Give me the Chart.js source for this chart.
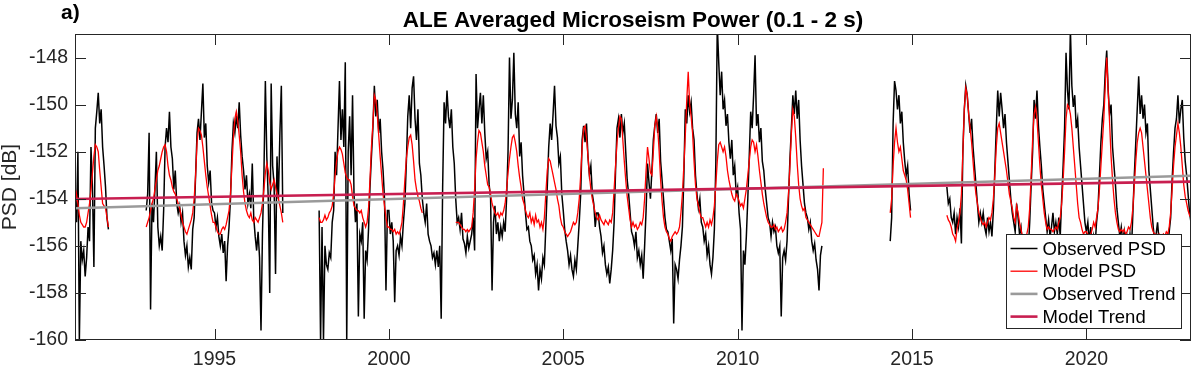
<!DOCTYPE html>
<html>
<head>
<meta charset="utf-8">
<script src="https://cdn.jsdelivr.net/npm/chart.js@4.4.1/dist/chart.umd.min.js"></script>
<style>
  html, body { margin: 0; padding: 0; background: #fff; }
  #wrap { width: 1200px; height: 377px; position: relative; }
</style>
</head>
<body>
<div id="wrap"><canvas id="psdChart"></canvas></div>
<script>
// half-month samples, values in dB
const STEP = 1 / 24;

const xTicks = [1995, 2000, 2005, 2010, 2015, 2020];
const yTicks = [-160, -158, -156, -154, -152, -150, -148];
const seriesNames = ['Observed PSD', 'Model PSD', 'Observed Trend', 'Model Trend'];

const trendYears = [1991, 2023];
const observedTrend = [-154.40, -153.02];
const modelTrend = [-154.01, -153.27];

// first sample time of each continuous stretch
const observedStarts = [1991, 1993 + 1 / 24, 1998, 2014 + 9 / 24, 2016];
const modelStarts = [1991, 1993 + 1 / 24, 1998, 2001 + 22 / 24, 2014 + 9 / 24, 2016];

const obs1991 = [-154.2,-155.0,-152.0,-160.0,-155.8,-156.6,-156.2,-157.3,-156.5,-155.2,-155.8,-151.8,-153.5,-156.9,-151.0,-150.3,-149.5,-150.8,-150.2,-151.8,-152.6,-153.5,-154.8,-155.3];

const obs1993to96 = [
  -154.5,-153.8,-151.2,-158.7,-154.2,-155.0,-153.6,-152.0,-155.2,-156.0,-155.6,-156.2,-154.5,-151.8,-151.0,-151.6,-150.3,-151.8,-152.3,-153.6,-152.8,-154.2,-154.6,
  -154.3,-155.0,-154.6,-155.8,-156.4,-156.0,-156.9,-156.5,-157.0,-155.3,-154.8,-153.0,-151.2,-150.6,-151.5,-150.3,-149.1,-151.4,-150.8,-152.6,-153.3,-152.8,-154.2,-154.5,
  -154.6,-155.2,-154.8,-155.6,-156.0,-155.5,-156.3,-155.8,-157.5,-156.0,-155.2,-154.0,-152.0,-150.8,-151.2,-150.5,-151.0,-149.9,-151.3,-152.2,-152.8,-153.6,-153.0,-154.2,
  -153.8,-154.4,-152.5,-154.8,-155.6,-156.2,-155.4,-156.5,-159.6,-155.5,-153.0,-149.0,-152.2,-154.0,-158.0,-149.1,-152.6,-153.4,-157.2,-152.2,-154.0,-151.2,-149.2,-154.6
];

const obs1998to2012 = [
  -154.5,-160.0,-155.2,-160.0,-156.0,-156.8,-157.0,-156.3,-156.5,-155.0,-154.5,-152.0,-153.0,-151.0,-149.0,-151.5,-150.2,-151.8,-148.2,-160.0,-152.0,-150.5,-153.0,-149.6,
  -153.8,-155.0,-154.2,-159.0,-155.5,-155.8,-155.0,-159.1,-156.2,-156.6,-155.3,-153.5,-152.2,-151.0,-149.2,-150.5,-149.8,-151.2,-150.6,-152.0,-152.8,-154.0,-157.9,-154.5,
  -154.5,-155.5,-155.0,-155.8,-158.4,-156.2,-156.0,-156.4,-155.6,-156.0,-155.0,-154.2,-152.5,-150.5,-149.6,-151.0,-149.3,-148.8,-150.6,-151.5,-150.2,-152.5,-153.0,-154.0,
  -154.6,-155.0,-154.2,-155.5,-155.8,-156.0,-156.5,-156.3,-156.8,-156.2,-156.9,-156.0,-159.1,-153.5,-149.9,-150.8,-149.4,-150.5,-151.0,-150.2,-151.8,-152.5,-154.0,-155.0,
  -154.8,-155.3,-154.6,-155.7,-155.9,-156.3,-155.6,-156.1,-155.8,-155.5,-154.8,-156.2,-148.7,-151.0,-150.2,-149.5,-150.8,-149.6,-151.2,-152.3,-152.0,-153.4,-154.0,-157.9,
  -155.0,-154.3,-155.5,-155.0,-155.8,-155.2,-155.6,-155.0,-155.4,-154.0,-152.0,-148.0,-150.6,-149.8,-147.8,-150.4,-151.0,-149.9,-152.2,-151.6,-153.0,-153.8,-154.6,-155.3,
  -155.2,-155.8,-156.0,-156.6,-156.4,-157.2,-156.8,-157.9,-157.0,-157.4,-156.5,-156.8,-155.2,-153.5,-151.8,-150.8,-151.5,-150.4,-149.2,-150.9,-151.4,-152.5,-152.2,-153.8,
  -154.5,-155.3,-155.8,-156.2,-156.8,-156.4,-157.0,-157.3,-156.6,-157.0,-156.0,-155.0,-153.8,-151.5,-150.9,-151.6,-150.8,-152.2,-153.0,-152.6,-153.8,-154.2,-155.2,-154.6,
  -154.6,-155.2,-155.6,-156.3,-156.0,-156.8,-157.2,-156.9,-157.6,-157.0,-156.2,-155.0,-152.8,-151.0,-150.6,-151.4,-150.4,-151.2,-150.8,-152.0,-153.2,-153.8,-154.6,-155.4,
  -155.6,-156.0,-155.4,-156.5,-156.2,-156.8,-156.4,-157.4,-156.0,-154.5,-152.5,-153.3,-154.0,-152.8,-151.5,-150.9,-150.4,-151.2,-150.6,-152.4,-153.2,-154.0,-154.8,-155.3,
  -155.4,-155.8,-156.2,-155.7,-159.3,-156.8,-157.0,-157.4,-156.6,-156.0,-155.2,-153.0,-150.2,-150.8,-149.6,-150.3,-149.9,-151.0,-151.5,-153.0,-153.8,-154.4,-154.0,-155.0,
  -155.2,-155.8,-155.5,-156.4,-156.0,-156.8,-157.2,-156.5,-155.3,-152.5,-146.6,-148.2,-149.6,-148.6,-150.2,-149.8,-150.9,-150.4,-151.6,-152.3,-151.5,-153.0,-152.6,-153.8,
  -153.5,-154.6,-155.3,-159.6,-156.2,-156.8,-155.6,-154.0,-152.2,-150.3,-151.0,-149.6,-147.9,-150.9,-150.4,-151.6,-151.0,-152.4,-152.8,-153.6,-154.2,-154.8,-155.0,-155.6,
  -155.0,-155.4,-155.2,-156.0,-156.3,-156.0,-159.0,-156.5,-156.2,-156.6,-155.8,-154.0,-152.3,-151.0,-149.6,-150.4,-149.4,-150.6,-149.8,-151.5,-152.6,-153.4,-154.2,-154.6,
  -154.8,-155.3,-155.0,-155.8,-156.2,-155.9,-156.6,-157.0,-157.9,-156.4,-156.0
];

const obs2014 = [-155.8,-154.8,-150.8,-149.0,-149.4,-150.2,-149.6,-150.8,-150.3,-151.6,-152.4,-153.0,-152.6,-153.8,-154.5];

const obs2016to23 = [
  -153.5,-154.2,-154.0,-154.8,-155.0,-154.6,-155.5,-154.8,-155.2,-154.4,-155.9,-152.0,-150.2,-149.2,-149.6,-150.4,-151.2,-150.6,-151.8,-152.6,-153.4,-154.2,-155.0,-154.6,
  -155.0,-154.6,-155.2,-155.5,-154.8,-155.4,-155.0,-155.6,-154.5,-152.8,-151.0,-149.4,-150.5,-149.5,-150.2,-151.0,-150.4,-151.6,-152.4,-153.2,-154.0,-154.6,-155.0,-155.4,
  -154.2,-154.8,-155.5,-155.2,-156.0,-156.4,-155.8,-156.6,-156.2,-155.0,-153.4,-152.0,-149.8,-150.6,-149.4,-150.9,-151.8,-152.6,-153.6,-154.2,-154.8,-155.4,-154.9,-155.6,
  -155.2,-154.6,-155.4,-155.0,-155.5,-154.8,-155.6,-154.0,-152.6,-151.0,-147.8,-149.4,-150.2,-146.8,-149.2,-150.1,-149.6,-151.0,-150.6,-151.8,-152.6,-153.4,-154.2,-155.0,
  -155.4,-155.0,-155.8,-155.2,-156.2,-155.6,-156.0,-155.0,-154.4,-153.0,-151.6,-150.6,-150.0,-148.6,-147.7,-149.4,-150.4,-150.0,-151.8,-152.6,-153.4,-154.4,-155.0,-155.6,
  -155.2,-155.8,-155.4,-156.2,-155.6,-156.0,-155.5,-156.2,-154.6,-153.0,-151.6,-150.2,-148.8,-150.4,-149.6,-150.6,-150.0,-151.2,-150.8,-152.8,-153.6,-154.4,-155.2,-155.8,
  -155.5,-155.0,-155.8,-156.2,-155.6,-156.4,-156.0,-155.7,-156.2,-155.4,-154.8,-153.2,-152.0,-151.0,-150.6,-149.6,-150.8,-150.2,-149.8,-151.4,-152.4,-153.0,-153.8,-154.6,
  -155.0
];

const mod1991 = [-154.3,-153.8,-154.2,-154.7,-155.0,-155.1,-155.2,-155.2,-155.0,-154.6,-154.2,-153.6,-152.9,-152.2,-151.7,-151.8,-152.0,-152.8,-153.5,-154.2,-154.3,-154.4,-154.8,-155.2];

const mod1993to96 = [
  -155.2,-155.0,-154.8,-154.5,-154.2,-154.0,-153.6,-153.2,-152.8,-152.6,-152.3,-152.0,-151.8,-151.7,-152.0,-152.6,-153.0,-153.2,-153.5,-153.7,-153.8,-154.0,-154.2,
  -154.4,-154.7,-155.0,-155.2,-155.4,-155.5,-155.3,-155.1,-154.9,-154.6,-154.0,-153.0,-151.6,-151.0,-151.1,-151.3,-151.8,-152.4,-153.0,-153.5,-153.9,-154.3,-154.7,-155.0,
  -155.0,-155.2,-155.4,-155.5,-155.5,-155.3,-155.2,-155.3,-155.1,-154.8,-154.5,-153.8,-152.6,-151.4,-150.6,-150.3,-150.7,-151.3,-152.0,-153.0,-153.7,-154.2,-154.5,-154.7,
  -154.8,-154.6,-154.9,-155.0,-154.8,-154.9,-155.0,-154.8,-154.6,-154.2,-153.6,-152.9,-152.5,-152.8,-153.3,-153.6,-153.4,-153.2,-153.5,-153.8,-154.0,-154.3,-154.6,-155.0
];

const mod1998to2000 = [
  -154.8,-155.0,-155.0,-154.9,-154.7,-154.9,-154.8,-154.6,-154.5,-154.3,-153.8,-153.0,-152.4,-152.0,-151.8,-151.9,-152.1,-152.5,-152.9,-153.1,-153.2,-153.2,-153.4,-153.9,
  -154.3,-154.4,-154.5,-154.5,-154.6,-154.5,-154.8,-155.0,-155.2,-155.0,-154.4,-153.2,-151.8,-150.8,-149.6,-149.8,-150.4,-151.3,-152.2,-153.0,-153.8,-154.3,-154.8,-155.2,
  -155.2,-155.3,-155.3,-155.4,-155.3,-155.5,-155.4,-155.5,-155.3,-155.0,-154.2,-153.2,-152.3,-151.8,-151.4,-151.3,-151.7,-152.4,-153.2,-153.6,-153.9,-154.1,-154.4,-154.6
];

const mod2001to2012 = [
  -155.0,-155.0,
  -155.0,-155.1,-155.2,-155.3,-155.3,-155.4,-155.3,-155.4,-155.3,-155.2,-154.6,-153.6,-152.3,-151.6,-151.1,-151.2,-151.6,-152.0,-152.6,-153.0,-153.4,-153.5,-153.8,-154.2,
  -154.4,-154.6,-154.7,-154.6,-154.8,-154.6,-154.7,-154.5,-154.2,-153.6,-152.9,-152.3,-151.8,-151.4,-151.3,-151.6,-152.0,-152.6,-153.1,-153.5,-154.0,-154.2,-154.5,-154.7,
  -154.8,-154.6,-155.0,-154.8,-155.1,-154.7,-155.0,-154.9,-155.2,-155.0,-155.3,-154.8,-153.8,-152.8,-152.3,-152.4,-152.7,-153.0,-153.3,-153.6,-154.0,-154.3,-154.8,-155.1,
  -155.2,-155.4,-155.5,-155.6,-155.5,-155.4,-155.2,-155.0,-155.1,-155.0,-154.6,-154.0,-153.0,-151.8,-151.0,-150.9,-151.4,-152.2,-153.0,-153.6,-154.0,-154.3,-154.6,-154.8,
  -154.9,-154.7,-154.9,-155.0,-155.1,-154.9,-155.0,-155.1,-154.9,-155.0,-154.6,-153.6,-152.6,-151.6,-151.0,-150.5,-150.6,-151.5,-152.4,-153.2,-153.9,-154.4,-154.9,-155.2,
  -155.0,-155.2,-155.1,-155.3,-155.2,-155.0,-155.1,-154.8,-154.0,-152.8,-151.8,-152.3,-152.9,-153.0,-152.0,-150.9,-150.5,-151.0,-152.0,-153.2,-154.1,-154.8,-155.2,-155.4,
  -155.5,-155.7,-155.8,-155.6,-155.5,-155.4,-155.5,-155.4,-155.2,-154.6,-153.8,-152.6,-151.3,-149.8,-148.6,-150.0,-150.5,-151.2,-152.4,-153.4,-154.0,-154.3,-154.6,-154.8,
  -154.8,-155.0,-155.2,-155.0,-155.2,-154.9,-155.1,-154.8,-154.3,-153.4,-152.4,-151.7,-151.6,-151.8,-152.0,-151.8,-152.2,-152.8,-153.2,-153.5,-153.8,-154.0,-154.1,-153.8,
  -153.9,-154.1,-154.3,-154.2,-154.4,-154.0,-153.6,-153.0,-152.4,-151.8,-151.5,-151.6,-152.0,-151.7,-152.2,-152.8,-153.3,-153.8,-154.2,-154.5,-154.8,-155.0,-155.1,-155.2,
  -155.2,-155.1,-155.3,-155.2,-155.4,-155.3,-155.2,-155.4,-155.3,-155.0,-154.6,-153.8,-152.6,-151.2,-150.2,-150.5,-151.4,-152.5,-153.4,-154.0,-154.3,-154.5,-154.4,-154.8,
  -154.9,-155.0,-155.1,-155.2,-155.3,-155.4,-155.5,-155.6,-155.6,-155.3,-155.0,-152.7
];

const mod2014 = [-154.6,-154.0,-152.6,-151.6,-151.0,-151.6,-152.0,-151.8,-152.3,-152.8,-153.0,-153.2,-153.6,-154.2,-154.8];

const mod2016to23 = [
  -154.7,-154.9,-155.0,-155.2,-155.5,-155.6,-155.8,-155.3,-155.0,-154.6,-153.8,-152.0,-150.2,-149.3,-149.6,-150.4,-151.0,-151.6,-152.4,-153.2,-153.8,-154.2,-154.6,-154.8,
  -155.0,-155.1,-155.0,-155.2,-155.0,-154.8,-154.9,-154.6,-154.0,-153.0,-151.8,-151.0,-150.8,-151.2,-151.6,-152.0,-152.4,-152.8,-153.3,-153.8,-154.1,-154.4,-154.8,-155.0,
  -154.3,-154.6,-155.0,-155.3,-155.6,-155.8,-155.7,-155.5,-155.2,-154.4,-153.0,-151.5,-150.4,-150.1,-150.6,-151.6,-152.6,-153.4,-154.0,-154.6,-155.0,-155.3,-155.2,-155.3,
  -155.3,-155.4,-155.3,-155.2,-155.3,-155.0,-154.8,-154.2,-153.2,-152.0,-150.6,-150.0,-150.1,-150.4,-151.0,-151.8,-152.6,-153.4,-154.2,-154.8,-155.0,-155.3,-155.5,-155.4,
  -155.4,-155.5,-155.6,-155.5,-155.3,-155.0,-155.2,-154.8,-154.4,-153.6,-152.6,-151.6,-150.6,-149.2,-148.0,-149.4,-150.8,-152.2,-153.2,-154.0,-154.6,-155.0,-155.3,-155.4,
  -155.3,-155.4,-155.3,-155.5,-155.4,-155.2,-155.3,-155.0,-154.4,-153.4,-152.4,-151.6,-151.2,-151.0,-151.2,-151.8,-152.4,-153.0,-153.6,-154.2,-154.8,-155.2,-155.4,-155.5,
  -155.5,-155.6,-155.5,-155.7,-155.6,-155.5,-155.6,-155.4,-155.5,-155.2,-154.6,-153.6,-152.6,-151.8,-151.3,-150.8,-151.2,-151.8,-152.6,-153.4,-153.9,-154.2,-154.5,-154.7,
  -154.8
];

// glue stretches together, a null point breaks the line between them
function buildSeries(starts, segments) {
  const pts = [];
  segments.forEach((vals, k) => {
    if (k > 0) pts.push({ x: starts[k] - STEP / 2, y: null });
    vals.forEach((v, i) => pts.push({ x: starts[k] + i * STEP, y: v }));
  });
  return pts;
}

const observedPts = buildSeries(observedStarts, [obs1991, obs1993to96, obs1998to2012, obs2014, obs2016to23]);
const modelPts = buildSeries(modelStarts, [mod1991, mod1993to96, mod1998to2000, mod2001to2012, mod2014, mod2016to23]);
const trendPts = vals => trendYears.map((yr, i) => ({ x: yr, y: vals[i] }));

const FONT = "'Liberation Sans', Arial, Helvetica, sans-serif";
const INK = '#262626';
const TICK = 11;

const framePlugin = {
  id: 'matlabFrame',
  afterDatasetsDraw(chart) {
    const { ctx, chartArea: a, scales: { x, y } } = chart;
    ctx.save();
    ctx.strokeStyle = INK;
    ctx.lineWidth = 1;
    ctx.beginPath();
    xTicks.forEach(v => {
      const px = Math.round(x.getPixelForValue(v)) + 0.5;
      ctx.moveTo(px, a.bottom); ctx.lineTo(px, a.bottom - TICK);
      ctx.moveTo(px, a.top); ctx.lineTo(px, a.top + TICK);
    });
    yTicks.forEach(v => {
      const py = Math.round(y.getPixelForValue(v)) + 0.5;
      ctx.moveTo(a.left, py); ctx.lineTo(a.left + TICK, py);
      ctx.moveTo(a.right, py); ctx.lineTo(a.right - TICK, py);
    });
    ctx.stroke();
    ctx.strokeRect(a.left + 0.5, a.top + 0.5, a.right - a.left - 1, a.bottom - a.top - 1);

    // legend box, lower right inside the axes
    const boxW = 175, boxH = 94;
    const bx = Math.round(a.right - 10 - boxW) + 0.5;
    const by = Math.round(a.bottom - 12 - boxH) + 0.5;
    ctx.fillStyle = '#fff';
    ctx.fillRect(bx, by, boxW, boxH);
    ctx.strokeStyle = INK;
    ctx.strokeRect(bx, by, boxW, boxH);
    ctx.font = '18.5px ' + FONT;
    ctx.textBaseline = 'middle';
    ctx.textAlign = 'left';
    chart.data.datasets.forEach((ds, i) => {
      const ry = by + 14 + i * 22.7;
      ctx.strokeStyle = ds.borderColor;
      ctx.lineWidth = Math.min(ds.borderWidth, 2.6);
      ctx.beginPath();
      ctx.moveTo(bx + 4, ry);
      ctx.lineTo(bx + 31, ry);
      ctx.stroke();
      ctx.fillStyle = '#000';
      ctx.fillText(seriesNames[i], bx + 36, ry + 1);
    });
    ctx.restore();
  },
  afterDraw(chart) {
    const { ctx, chartArea: a } = chart;
    ctx.save();
    ctx.fillStyle = '#000';
    ctx.textBaseline = 'alphabetic';
    ctx.textAlign = 'center';
    ctx.font = 'bold 22.5px ' + FONT;
    ctx.fillText('ALE Averaged Microseism Power (0.1 - 2 s)', (a.left + a.right) / 2, 27);
    ctx.textAlign = 'left';
    ctx.font = 'bold 21px ' + FONT;
    ctx.fillText('a)', 61, 19);
    ctx.restore();
  }
};

new Chart(document.getElementById('psdChart'), {
  type: 'line',
  data: {
    datasets: [
      { label: seriesNames[0], data: observedPts, borderColor: '#000000', borderWidth: 1.5, order: 4 },
      { label: seriesNames[1], data: modelPts, borderColor: '#ff0000', borderWidth: 1.3, order: 3 },
      { label: seriesNames[2], data: trendPts(observedTrend), borderColor: '#9a9a9a', borderWidth: 2.6, order: 2 },
      { label: seriesNames[3], data: trendPts(modelTrend), borderColor: '#c81e50', borderWidth: 2.6, order: 1 }
    ]
  },
  options: {
    responsive: true,
    maintainAspectRatio: false,
    animation: false,
    events: [],
    spanGaps: false,
    elements: { point: { radius: 0 }, line: { tension: 0 } },
    layout: { padding: { top: 34, right: 9, left: 0, bottom: 0 } },
    plugins: { legend: { display: false }, title: { display: false }, tooltip: { enabled: false } },
    scales: {
      x: {
        type: 'linear',
        min: 1991,
        max: 2023,
        grid: { display: false, drawTicks: false },
        border: { display: false },
        afterBuildTicks: s => { s.ticks = xTicks.map(v => ({ value: v })); },
        afterFit: s => { s.height = 37; },
        ticks: { padding: 8, color: INK, font: { family: FONT, size: 19.5 }, callback: v => String(v), maxRotation: 0 }
      },
      y: {
        min: -160,
        max: -147,
        grid: { display: false, drawTicks: false },
        border: { display: false },
        afterBuildTicks: s => { s.ticks = yTicks.map(v => ({ value: v })); },
        afterFit: s => { s.width = 75; },
        ticks: { padding: 7, color: INK, font: { family: FONT, size: 19.5 }, callback: v => String(v) },
        title: { display: true, text: 'PSD [dB]', color: INK, padding: { top: 0, bottom: 0 }, font: { family: FONT, size: 21, lineHeight: 1 } }
      }
    }
  },
  plugins: [framePlugin]
});
</script>
</body>
</html>
